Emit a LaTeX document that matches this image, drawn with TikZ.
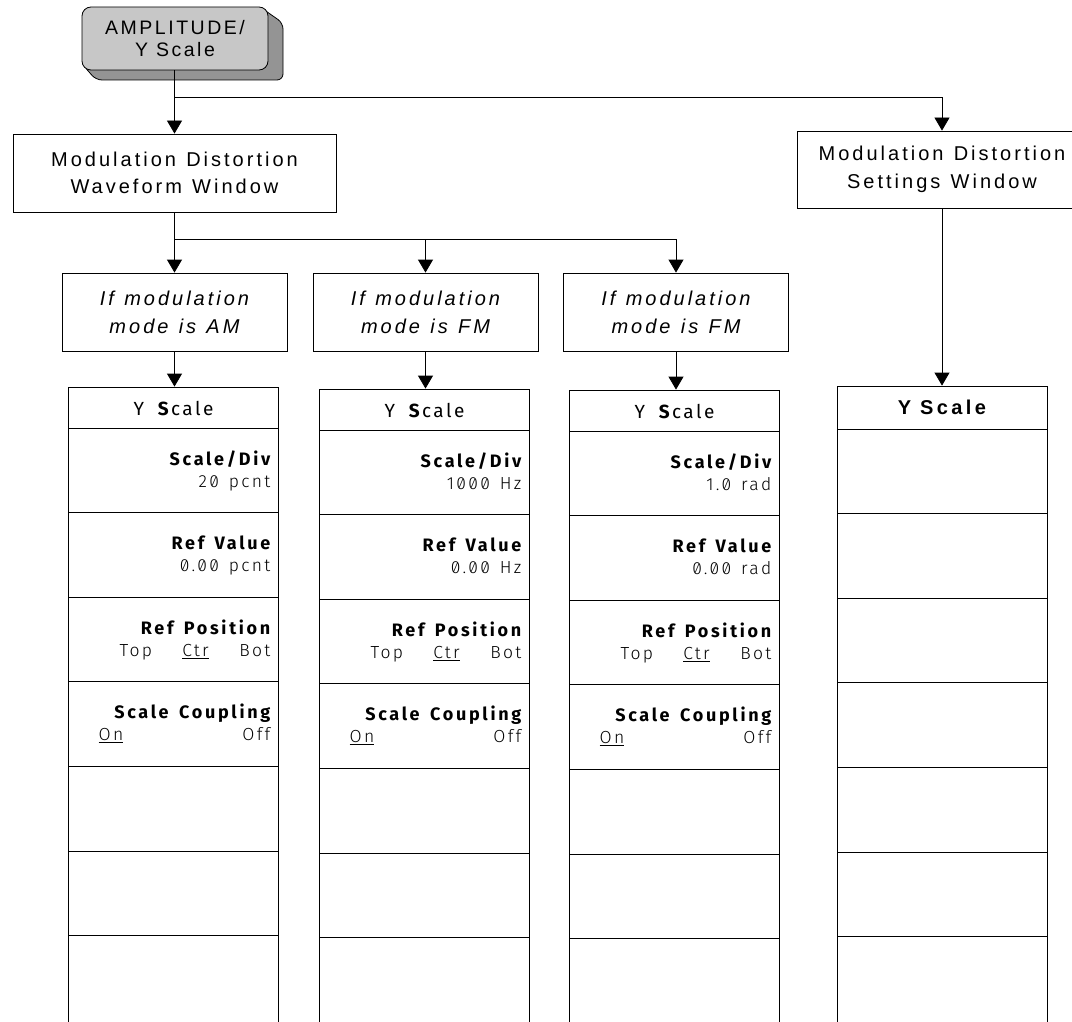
\documentclass[tikz,border=0pt]{standalone}
\usepackage{fontspec}
\setmainfont{Liberation Sans}
\newfontfamily\hfont[LetterSpace=15,WordSpace=1.2]{Liberation Sans}
\newfontfamily\ampfont[LetterSpace=13]{Liberation Sans}
\newfontfamily\setfont[LetterSpace=17]{Liberation Sans}
\newfontfamily\lblfont[LetterSpace=15,WordSpace=1.5]{Fira Sans}
\newfontfamily\ttlfont[LetterSpace=13,WordSpace=1.5]{Fira Sans}
\newfontfamily\valfont[LetterSpace=13,WordSpace=1.4,Numbers=SlashedZero]{Fira Sans Light}
\usetikzlibrary{arrows.meta}
\definecolor{ampfill}{gray}{0.78}
\definecolor{ampshadow}{gray}{0.58}
\tikzset{
  box/.style={draw, line width=0.8pt, fill=white, inner sep=0pt, align=center},
  hd/.style={box, font=\hfont\fontsize{20}{27.6}\selectfont},
  ifbox/.style={box, font=\hfont\itshape\fontsize{20}{28}\selectfont, minimum width=225, minimum height=78},
  arr/.style={line width=0.8pt, -{Triangle[width=15pt,length=13pt]}},
  tline/.style={line width=0.8pt},
  titlecell/.style={draw, line width=0.8pt, minimum width=210, inner sep=0pt},
  lbl/.style={anchor=base east, inner sep=0pt, font=\lblfont\bfseries\fontsize{18}{20}\selectfont},
  val/.style={inner sep=0pt, font=\valfont\fontsize{17.5}{20}\selectfont},
  ttl/.style={anchor=base, inner sep=0pt, font=\ttlfont\fontsize{19}{22}\selectfont},
}
% #1 name, #2 centre x, #3 top y, #4 bottom of title row
\newcommand\menucol[4]{%
  \node[titlecell, minimum height={#4-#3}] (#1) at (#2,{(#3+#4)/2}) {};
  \draw[tline] (#2-105,#4) -- (#2-105,1040) (#2+105,#4) -- (#2+105,1040);
  \foreach \k in {1,...,6} \draw[tline] (#2-105,#4+\k*84.6) -- (#2+105,#4+\k*84.6);
}
% #1 name prefix, #2 centre x, #3 title-row bottom, #4 scale value, #5 ref value
\newcommand\menukeys[5]{%
  \node[ttl] (#1t) at (#2,#3-13) {Y \textbf{S}cale};
  \node[lbl] (#1a) at (#2+97,#3+37) {Scale/Div};
  \node[val, anchor=base east] (#1av) at (#2+97,#3+59) {#4};
  \node[lbl] (#1b) at (#2+97,#3+84.6+37) {Ref Value};
  \node[val, anchor=base east] (#1bv) at (#2+97,#3+84.6+59) {#5};
  \node[lbl] (#1c) at (#2+97,#3+169.2+37) {Ref Position};
  \node[val, anchor=base west] (#1c1) at (#2-54,#3+169.2+59) {Top};
  \node[val, anchor=base] (#1c2) at (#2+22,#3+169.2+59) {\underline{Ctr}};
  \node[val, anchor=base east] (#1c3) at (#2+97,#3+169.2+59) {Bot};
  \node[lbl] (#1d) at (#2+97,#3+253.8+37) {Scale Coupling};
  \node[val, anchor=base west] (#1d1) at (#2-75,#3+253.8+59) {\underline{On}};
  \node[val, anchor=base east] (#1d2) at (#2+97,#3+253.8+59) {Off};
}
\begin{document}
\begin{tikzpicture}[x=1pt,y=-1pt]
\useasboundingbox (0,0) rectangle (1072,1022);

% AMPLITUDE key with 3D extrusion
\filldraw[fill=ampshadow, line width=0.8pt, rounded corners=6]
  (260,7) -- (283,23) -- (283,80) -- (96,80) -- (83,65) -- cycle;
\node[draw, line width=0.8pt, fill=ampfill, rounded corners=9, minimum width=186, minimum height=63,
      inner sep=0pt, align=center, font=\ampfont\fontsize{19.5}{21.5}\selectfont]
      (amp) at (175,38.5) {AMPLITUDE/\\Y Scale};

% windows
\node[hd, minimum width=323, minimum height=78] (wave) at (174.5,173)
  {Modulation Distortion\\Waveform Window};
\node[hd, minimum width=290, minimum height=77] (set) at (942,169.5)
  {Modulation Distortion\\Settings Window};

% condition boxes
\node[ifbox] (ifAM) at (174.5,312) {If modulation\\mode is AM};
\node[ifbox] (ifFM) at (425.5,312) {If modulation\\mode is FM};
\node[ifbox] (ifPM) at (676,312) {If modulation\\mode is FM};

% menu columns
\menucol{tAM}{173.5}{387}{428}
\menucol{tFM}{424.5}{389}{430}
\menucol{tPM}{674.5}{390}{431}
\menucol{tS}{942}{386}{429}

\menukeys{kAM}{173.5}{428}{20 pcnt}{0.00 pcnt}
\menukeys{kFM}{424.5}{430}{1000 Hz}{0.00 Hz}
\menukeys{kPM}{674.5}{431}{1.0 rad}{0.00 rad}
\node[anchor=base, inner sep=0pt, font=\setfont\bfseries\fontsize{20}{24}\selectfont]
  (kSt) at (942,414) {Y Scale};

% connectors
\coordinate (j1) at (174.5,97);
\coordinate (j2) at (174.5,239);
\draw[arr] (wave.north |- amp.south) -- (wave.north);
\draw[arr] (j1) -| (set.north);
\draw[arr] (wave.south) -- (ifAM.north);
\draw[arr] (j2) -| (ifFM.north);
\draw[arr] (j2) -| (ifPM.north);
\draw[arr] (ifAM.south) -- (ifAM.south |- tAM.north);
\draw[arr] (ifFM.south) -- (ifFM.south |- tFM.north);
\draw[arr] (ifPM.south) -- (ifPM.south |- tPM.north);
\draw[arr] (set.south) -- (tS.north);
\end{tikzpicture}
\end{document}
